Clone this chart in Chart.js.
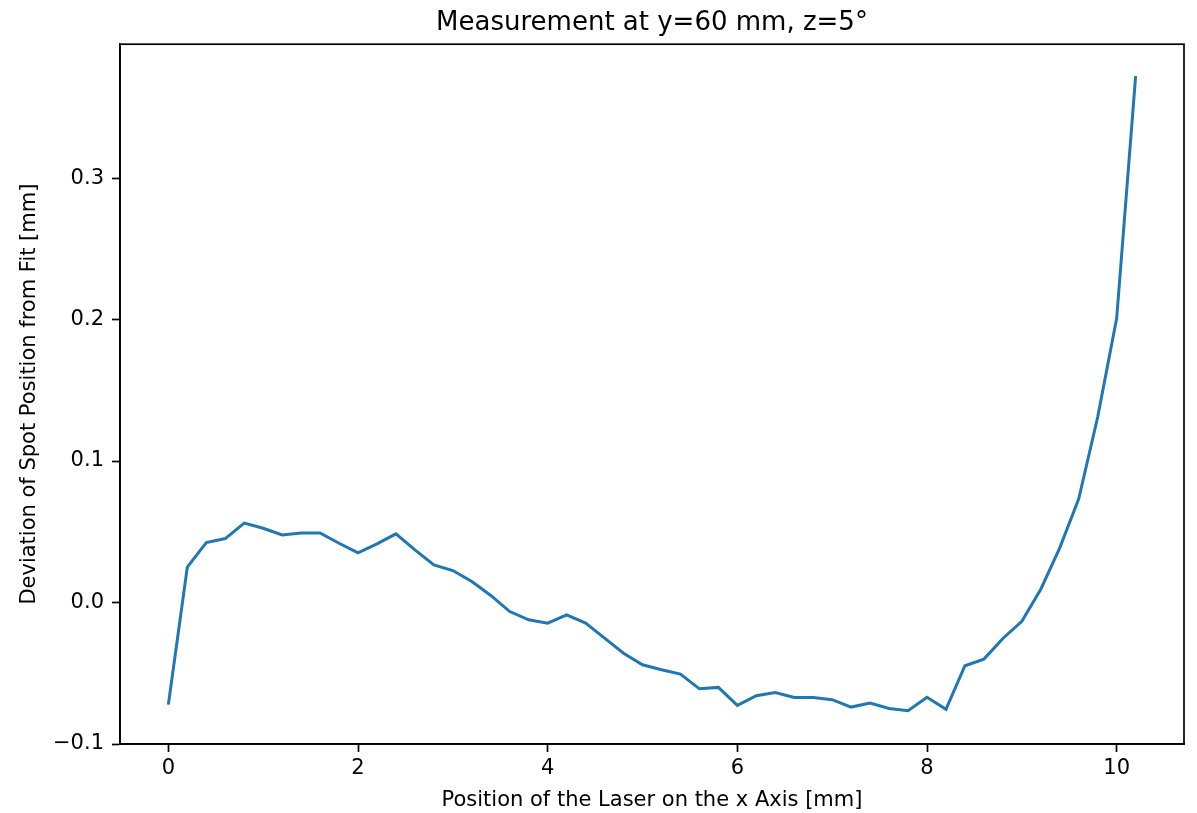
<!DOCTYPE html>
<html>
<head>
<meta charset="utf-8">
<title>Measurement at y=60 mm, z=5°</title>
<script src="https://cdn.jsdelivr.net/npm/chart.js@4.4.1/dist/chart.umd.min.js"></script>
<style>
  html, body { margin: 0; padding: 0; background: #ffffff; }
  canvas { display: block; }
</style>
</head>
<body>
<canvas id="deviationChart" width="1197" height="813"></canvas>
<script>
// laser positions on the x axis [mm]
let laserPositions = [
  0, 0.2, 0.4, 0.6, 0.8, 1.0, 1.2, 1.4, 1.6, 1.8,
  2.0, 2.2, 2.4, 2.6, 2.8, 3.0, 3.2, 3.4, 3.6, 3.8,
  4.0, 4.2, 4.4, 4.6, 4.8, 5.0, 5.2, 5.4, 5.6, 5.8,
  6.0, 6.2, 6.4, 6.6, 6.8, 7.0, 7.2, 7.4, 7.6, 7.8,
  8.0, 8.2, 8.4, 8.6, 8.8, 9.0, 9.2, 9.4, 9.6, 9.8,
  10.0, 10.2
];
// deviation of spot position from fit [mm]
let deviations = [
  -0.0722, 0.0250, 0.0424, 0.0452, 0.0561, 0.0525, 0.0478, 0.0492, 0.0492, 0.0419,
  0.0351, 0.0414, 0.0485, 0.0372, 0.0266, 0.0226, 0.0148, 0.0050, -0.0064, -0.0122,
  -0.0146, -0.0087, -0.0146, -0.0252, -0.0358, -0.0440, -0.0475, -0.0506, -0.0610, -0.0600,
  -0.0727, -0.0659, -0.0636, -0.0671, -0.0671, -0.0687, -0.0739, -0.0711, -0.0749, -0.0765,
  -0.0670, -0.0755, -0.0447, -0.0400, -0.0254, -0.0133, 0.0094, 0.0386, 0.0733, 0.1311,
  0.2009, 0.3721
];
// tick labels
let xTicks = [0, 2, 4, 6, 8, 10];
let yTicks = [-0.1, 0.0, 0.1, 0.2, 0.3];

// build the points for the line
let points = [];
for (let i = 0; i < laserPositions.length; i++) {
  points.push({ x: laserPositions[i], y: deviations[i] });
}

Chart.defaults.font.family = "'DejaVu Sans', sans-serif";
Chart.defaults.color = '#000000';

// draw the box round the plot like matplotlib does
const frameBox = {
  id: 'frameBox',
  afterDraw(chart) {
    const { ctx, chartArea } = chart;
    ctx.save();
    ctx.strokeStyle = '#000000';
    ctx.lineWidth = 1.7;
    ctx.strokeRect(chartArea.left, chartArea.top, chartArea.right - chartArea.left, chartArea.bottom - chartArea.top);
    ctx.restore();
  }
};

const config = {
  type: 'line',
  data: {
    datasets: [{
      label: 'deviation',
      data: points,
      borderColor: '#1f77b4',
      borderWidth: 3,
      pointRadius: 0,
      fill: false,
      tension: 0
    }]
  },
  options: {
    responsive: false,
    devicePixelRatio: 1,
    animation: false,
    layout: { padding: { left: 0, right: 13, top: 0, bottom: 0 } },
    plugins: {
      legend: { display: false },
      tooltip: { enabled: false },
      title: {
        display: true,
        // keep the title over the plot area only, not the whole canvas
        fullSize: false,
        text: 'Measurement at y=60 mm, z=5°',
        color: '#000000',
        font: { size: 26, weight: 'normal' },
        padding: { top: 8, bottom: 5 }
      }
    },
    scales: {
      x: {
        type: 'linear',
        min: -0.51,
        max: 10.71,
        afterBuildTicks: (axis) => { axis.ticks = xTicks.map(v => ({ value: v })); },
        afterFit: (axis) => { axis.height = 69; },
        grid: { drawOnChartArea: false, drawTicks: true, tickLength: 8, tickColor: '#000000', tickWidth: 1.7 },
        border: { display: true, color: '#000000', width: 1.7 },
        ticks: { font: { size: 21 }, padding: 4, maxRotation: 0, callback: (v) => String(v) },
        title: {
          display: true,
          text: 'Position of the Laser on the x Axis [mm]',
          font: { size: 21 },
          padding: { top: 0, bottom: 0 }
        }
      },
      y: {
        type: 'linear',
        min: -0.1,
        max: 0.3946,
        afterBuildTicks: (axis) => { axis.ticks = yTicks.map(v => ({ value: v })); },
        afterFit: (axis) => { axis.width = 120; },
        grid: { drawOnChartArea: false, drawTicks: true, tickLength: 8, tickColor: '#000000', tickWidth: 1.7 },
        border: { display: true, color: '#000000', width: 1.7 },
        ticks: {
          font: { size: 21 },
          padding: 8,
          callback: (v) => v.toFixed(1).replace('-', '\u2212')
        },
        title: {
          display: true,
          text: 'Deviation of Spot Position from Fit [mm]',
          font: { size: 21 },
          padding: { top: 17, bottom: 0 }
        }
      }
    }
  },
  plugins: [frameBox]
};

let deviationChart = new Chart(document.getElementById('deviationChart'), config);
</script>
</body>
</html>
